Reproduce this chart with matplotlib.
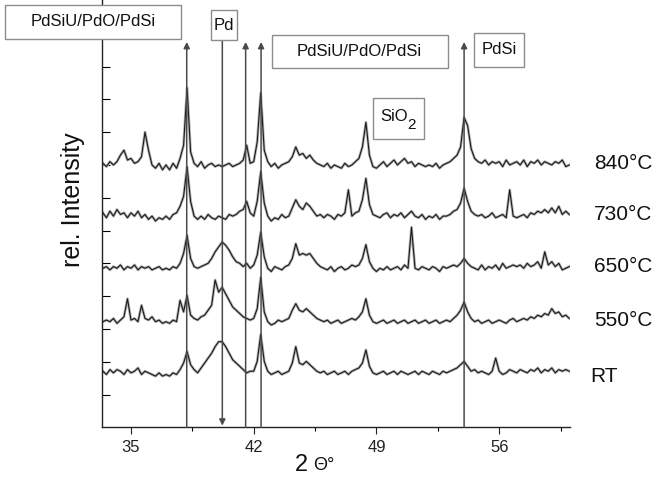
import numpy as np
import matplotlib

matplotlib.use("Agg")
import matplotlib.pyplot as plt
from matplotlib.patches import Rectangle

plt.rcParams["font.family"] = ["Liberation Sans", "DejaVu Sans"]

W, H = 653, 492

# 2-theta sampling grid (deg), one value every 0.2 deg
two_theta = np.round(np.arange(33.4, 60.01, 0.2), 1)

# intensities, relative to each trace's baseline (tick units)
i_840 = [0.05, -0.05, 0.1,
         0.0, 0.1, 0.3, 0.45, 0.15,      # 34
         0.2, 0.05, 0.1, 0.25, 1.0,      # 35
         0.45, 0.0, -0.1, 0.05, -0.15,   # 36
         0.0, -0.15, 0.05, -0.1, 0.2,    # 37
         0.6, 2.35, 0.4, 0.05, -0.05,    # 38
         0.1, -0.1, 0.0, 0.05, -0.05,    # 39
         0.0, -0.05, 0.0, 0.05, -0.05,   # 40
         0.0, 0.05, 0.15, 0.6, 0.05,     # 41
         0.1, 0.7, 2.2, 0.45, 0.1,       # 42
         -0.05, 0.05, -0.1, 0.0, 0.05,   # 43
         0.1, 0.25, 0.55, 0.3, 0.35,     # 44
         0.2, 0.3, 0.15, 0.05, 0.0,      # 45
         -0.05, 0.05, -0.1, 0.0, -0.05,  # 46
         -0.1, 0.05, -0.05, 0.0, 0.1,    # 47
         0.2, 0.55, 1.3, 0.3, -0.05,     # 48
         -0.1, 0.0, 0.1, -0.05, 0.05,    # 49
         0.15, 0.0, 0.1, 0.2, 0.05,      # 50
         0.1, -0.05, 0.05, 0.0, -0.05,   # 51
         0.0, -0.05, 0.05, -0.1, 0.0,    # 52
         0.05, 0.1, 0.2, 0.3, 0.55,      # 53
         1.45, 1.2, 0.5, 0.2, 0.1,       # 54
         0.05, 0.15, 0.0, 0.1, 0.05,     # 55
         0.1, -0.05, 0.15, 0.0, 0.05,    # 56
         0.1, 0.0, 0.15, -0.05, 0.1,     # 57
         0.05, 0.15, 0.0, 0.1, 0.05,     # 58
         0.0, 0.1, 0.05, 0.15, -0.05,    # 59
         0.0]
i_730 = [0.1, -0.05, 0.15,
         0.0, 0.2, 0.05, 0.1, -0.05,     # 34
         0.1, 0.0, 0.15, -0.05, 0.05,    # 35
         -0.1, 0.0, -0.15, -0.05, -0.1,  # 36
         0.0, -0.1, 0.05, 0.1, 0.3,      # 37
         0.6, 1.5, 0.45, 0.0, -0.1,      # 38
         0.0, -0.1, 0.05, -0.05, -0.1,   # 39
         0.0, -0.05, -0.1, 0.05, 0.0,    # 40
         0.05, 0.15, 0.2, 0.45, 0.1,     # 41
         0.0, 0.45, 1.35, 0.4, 0.0,      # 42
         -0.15, -0.05, -0.1, 0.05, -0.05,  # 43
         0.0, 0.25, 0.5, 0.3, 0.2,       # 44
         0.4, 0.3, 0.15, 0.0, 0.05,      # 45
         -0.05, 0.05, 0.0, -0.1, 0.05,   # 46
         0.0, 0.1, 0.8, 0.0, 0.1,        # 47
         0.15, 0.5, 1.15, 0.35, 0.05,    # 48
         0.0, -0.05, 0.05, 0.1, -0.05,   # 49
         0.05, 0.0, 0.1, -0.05, 0.05,    # 50
         0.15, 0.0, -0.05, 0.05, -0.1,   # 51
         0.0, -0.05, 0.05, -0.1, 0.0,    # 52
         0.0, 0.05, 0.15, 0.2, 0.4,      # 53
         0.85, 0.45, 0.15, 0.05, 0.0,    # 54
         0.05, -0.05, 0.0, 0.1, -0.05,   # 55
         0.0, 0.05, -0.05, 0.8, 0.0,     # 56
         -0.05, 0.0, 0.05, -0.05, 0.1,   # 57
         0.05, 0.15, 0.1, 0.2, 0.1,      # 58
         0.25, 0.1, 0.3, 0.05, 0.15,     # 59
         0.05]
i_650 = [0.0, 0.05, -0.05,
         0.05, 0.0, 0.1, -0.05, 0.05,    # 34
         0.0, 0.1, -0.05, 0.05, 0.0,     # 35
         0.05, -0.05, 0.0, 0.05, -0.05,  # 36
         0.0, -0.05, 0.05, 0.0, 0.15,    # 37
         0.45, 1.0, 0.3, 0.05, 0.0,      # 38
         0.05, 0.1, 0.15, 0.3, 0.5,      # 39
         0.65, 0.8, 0.7, 0.55, 0.35,     # 40
         0.2, 0.15, 0.05, 0.15, 0.0,     # 41
         0.1, 0.4, 1.1, 0.35, 0.0,       # 42
         -0.1, 0.05, 0.0, -0.05, 0.05,   # 43
         0.1, 0.3, 0.75, 0.4, 0.45,      # 44
         0.4, 0.45, 0.3, 0.15, 0.05,     # 45
         0.0, -0.05, 0.05, -0.1, 0.0,    # 46
         0.05, -0.05, 0.0, 0.1, 0.05,    # 47
         0.1, 0.3, 0.72, 0.2, 0.0,       # 48
         -0.1, 0.0, -0.05, 0.05, -0.05,  # 49
         0.0, 0.05, -0.05, 0.1, 0.0,     # 50
         1.25, 0.0, -0.05, 0.05, 0.0,    # 51
         -0.05, 0.05, 0.0, -0.1, 0.05,   # 52
         0.0, 0.05, 0.1, 0.05, 0.15,     # 53
         0.3, 0.15, 0.05, 0.0, -0.05,    # 54
         0.1, -0.05, 0.05, 0.0, 0.1,     # 55
         -0.05, 0.15, 0.0, 0.05, 0.1,    # 56
         0.05, 0.1, 0.0, 0.15, 0.05,     # 57
         0.1, 0.2, 0.0, 0.5, 0.1,        # 58
         0.2, 0.05, 0.15, -0.05, 0.0,    # 59
         0.05]
i_550 = [0.0, 0.05, 0.0,
         0.1, -0.05, 0.05, 0.15, 0.7,    # 34
         0.05, 0.1, 0.0, 0.5, 0.1,       # 35
         0.05, 0.15, 0.0, 0.05, -0.05,   # 36
         0.0, -0.05, 0.05, 0.0, 0.65,    # 37
         0.3, 0.8, 0.2, 0.1, 0.05,       # 38
         0.15, 0.2, 0.35, 0.5, 1.27,     # 39
         0.9, 1.05, 0.85, 0.65, 0.45,    # 40
         0.35, 0.25, 0.15, 0.1, 0.05,    # 41
         0.1, 0.4, 1.35, 0.3, 0.0,       # 42
         -0.1, -0.05, 0.05, 0.0, 0.05,   # 43
         0.1, 0.35, 0.55, 0.35, 0.3,     # 44
         0.4, 0.3, 0.2, 0.1, 0.05,       # 45
         0.0, 0.05, -0.05, 0.0, 0.05,    # 46
         -0.05, 0.0, 0.05, 0.1, 0.05,    # 47
         0.15, 0.3, 0.7, 0.2, 0.0,       # 48
         -0.05, 0.0, 0.05, -0.05, 0.0,   # 49
         0.05, -0.05, 0.0, 0.05, -0.05,  # 50
         0.0, 0.05, -0.05, 0.0, 0.05,    # 51
         -0.05, 0.0, 0.05, -0.05, 0.0,   # 52
         0.05, 0.0, 0.1, 0.2, 0.35,      # 53
         0.6, 0.3, 0.1, 0.0, 0.05,       # 54
         -0.05, 0.0, 0.05, -0.05, 0.0,   # 55
         0.05, 0.0, -0.05, 0.05, 0.1,    # 56
         0.0, 0.05, 0.1, 0.05, 0.15,     # 57
         0.1, 0.2, 0.15, 0.25, 0.2,      # 58
         0.4, 0.25, 0.3, 0.15, 0.2,      # 59
         0.1]
i_rt = [0.05, -0.05, 0.1,
        0.0, 0.1, 0.05, -0.05, 0.1,      # 34
        0.0, 0.05, 0.15, -0.05, 0.05,    # 35
        0.0, -0.05, -0.1, 0.0, -0.1,     # 36
        -0.05, -0.1, 0.0, -0.05, 0.1,    # 37
        0.3, 0.65, 0.25, 0.1, 0.0,       # 38
        0.15, 0.3, 0.45, 0.6, 0.8,       # 39
        0.95, 0.95, 0.8, 0.6, 0.4,       # 40
        0.3, 0.2, 0.1, 0.0, 0.05,        # 41
        0.05, 0.35, 1.17, 0.35, 0.05,    # 42
        -0.05, 0.0, 0.05, -0.05, 0.0,    # 43
        0.05, 0.3, 0.8, 0.3, 0.25,       # 44
        0.35, 0.25, 0.15, 0.05, 0.0,     # 45
        0.05, -0.05, 0.0, 0.05, -0.05,   # 46
        0.0, 0.05, -0.05, 0.05, 0.1,     # 47
        0.15, 0.3, 0.7, 0.2, 0.0,        # 48
        -0.05, 0.0, 0.05, -0.05, 0.0,    # 49
        0.05, -0.05, 0.05, 0.0, -0.05,   # 50
        0.0, 0.05, -0.05, 0.05, 0.0,     # 51
        -0.05, 0.05, 0.0, -0.05, 0.05,   # 52
        0.0, 0.05, 0.1, 0.15, 0.25,      # 53
        0.35, 0.2, 0.05, 0.1, 0.0,       # 54
        0.05, 0.0, -0.05, 0.05, 0.45,    # 55
        0.05, -0.05, 0.0, 0.1, 0.05,     # 56
        0.0, 0.1, 0.05, 0.0, 0.1,        # 57
        0.05, 0.15, 0.0, 0.1, 0.05,      # 58
        0.15, 0.0, 0.1, 0.05, 0.1,       # 59
        0.05]

trace_names = ["840°C", "730°C", "650°C", "550°C", "RT"]
traces = [i_840, i_730, i_650, i_550, i_rt]
baselines = [8.0, 6.44, 4.85, 3.22, 1.66]
name_y = [8.03, 6.49, 4.90, 3.25, 1.54]

# reference reflections (2-theta)
up_lines = [38.18, 41.54, 42.42, 54.0]
pd_line = 40.21

x_major = [35, 42, 49, 56]
x_minor = [38.5, 45.5, 52.5, 59.5]


def fx(px):
    return px / W


def fy(py):
    return 1 - py / H


fig = plt.figure(figsize=(W / 100, H / 100), dpi=100)
ax = fig.add_axes([fx(101.7), fy(427.3), fx(570) - fx(101.7), fy(0) - fy(427.3)])
ax.set_xlim(33.33, 60.04)
ax.set_ylim(0, 13.03)

for values, base in zip(traces, baselines):
    y = np.asarray(values) + base
    ax.plot(two_theta, y, color="#b3b3b3", lw=2.0, solid_joinstyle="round", zorder=2)
    ax.plot(two_theta, y, color="#1a1a1a", lw=0.8, zorder=3)

for name, ypos in zip(trace_names, name_y):
    ax.text(61.22 if name == "RT" else 61.4, ypos, name, fontsize=15, va="center", ha="left",
            color="#111111", clip_on=False)

arrow_style = dict(arrowstyle="-|>", color="#4a4a4a", lw=1.1, mutation_scale=9, shrinkA=0, shrinkB=0)
for pos in up_lines:
    ax.annotate("", xy=(pos, 11.75), xytext=(pos, 0), arrowprops=arrow_style, zorder=4)
ax.annotate("", xy=(pd_line, 0.05), xytext=(pd_line, 11.81), arrowprops=arrow_style, zorder=4)

ax.set_xticks(x_major)
ax.set_xticks(x_minor, minor=True)
ax.set_yticks(range(1, 13))
ax.set_yticklabels([])
ax.tick_params(axis="x", which="major", direction="out", length=5, width=0.8, labelsize=12, pad=4, colors="#222222")
ax.tick_params(axis="x", which="minor", direction="out", length=3, width=0.8)
ax.tick_params(axis="y", direction="in", length=6, width=0.8)
for side in ("top", "right"):
    ax.spines[side].set_visible(False)
for side in ("left", "bottom"):
    ax.spines[side].set_linewidth(1.0)
    ax.spines[side].set_color("#222222")

fig.text(fx(73), fy(200), "rel. Intensity", rotation=90, fontsize=18, ha="center", va="center", color="#111111")
fig.text(fx(308), fy(465), "2", fontsize=17, ha="right", va="center", color="#111111")
fig.text(fx(313), fy(465), "Θ°", fontsize=13, ha="left", va="center", color="#111111")

# annotation boxes: (left, top, right, bottom) in pixels
boxes = [
    ((5, 5, 181, 39), "PdSiU/PdO/PdSi"),
    ((211, 10, 237.3, 40), "Pd"),
    ((271.7, 35, 447.5, 68.3), "PdSiU/PdO/PdSi"),
    ((473.5, 33.3, 524.3, 66.5), "PdSi"),
    ((373, 98, 423.5, 139.3), None),
]
for (x0, y0, x1, y1), text in boxes:
    fig.add_artist(Rectangle((fx(x0), fy(y1)), fx(x1) - fx(x0), fy(y0) - fy(y1), transform=fig.transFigure,
                             facecolor="white", edgecolor="#8c8c8c", lw=1.0, zorder=5))
    if text:
        fig.text(fx((x0 + x1) / 2), fy((y0 + y1) / 2), text, fontsize=12, ha="center", va="center",
                 color="#111111", zorder=6)
fig.text(fx(380), fy(116), "SiO", fontsize=12, ha="left", va="center", color="#111111", zorder=6)
fig.text(fx(407.5), fy(125), "2", fontsize=11, ha="left", va="center", color="#111111", zorder=6)

fig.savefig("out.png", dpi=100)
